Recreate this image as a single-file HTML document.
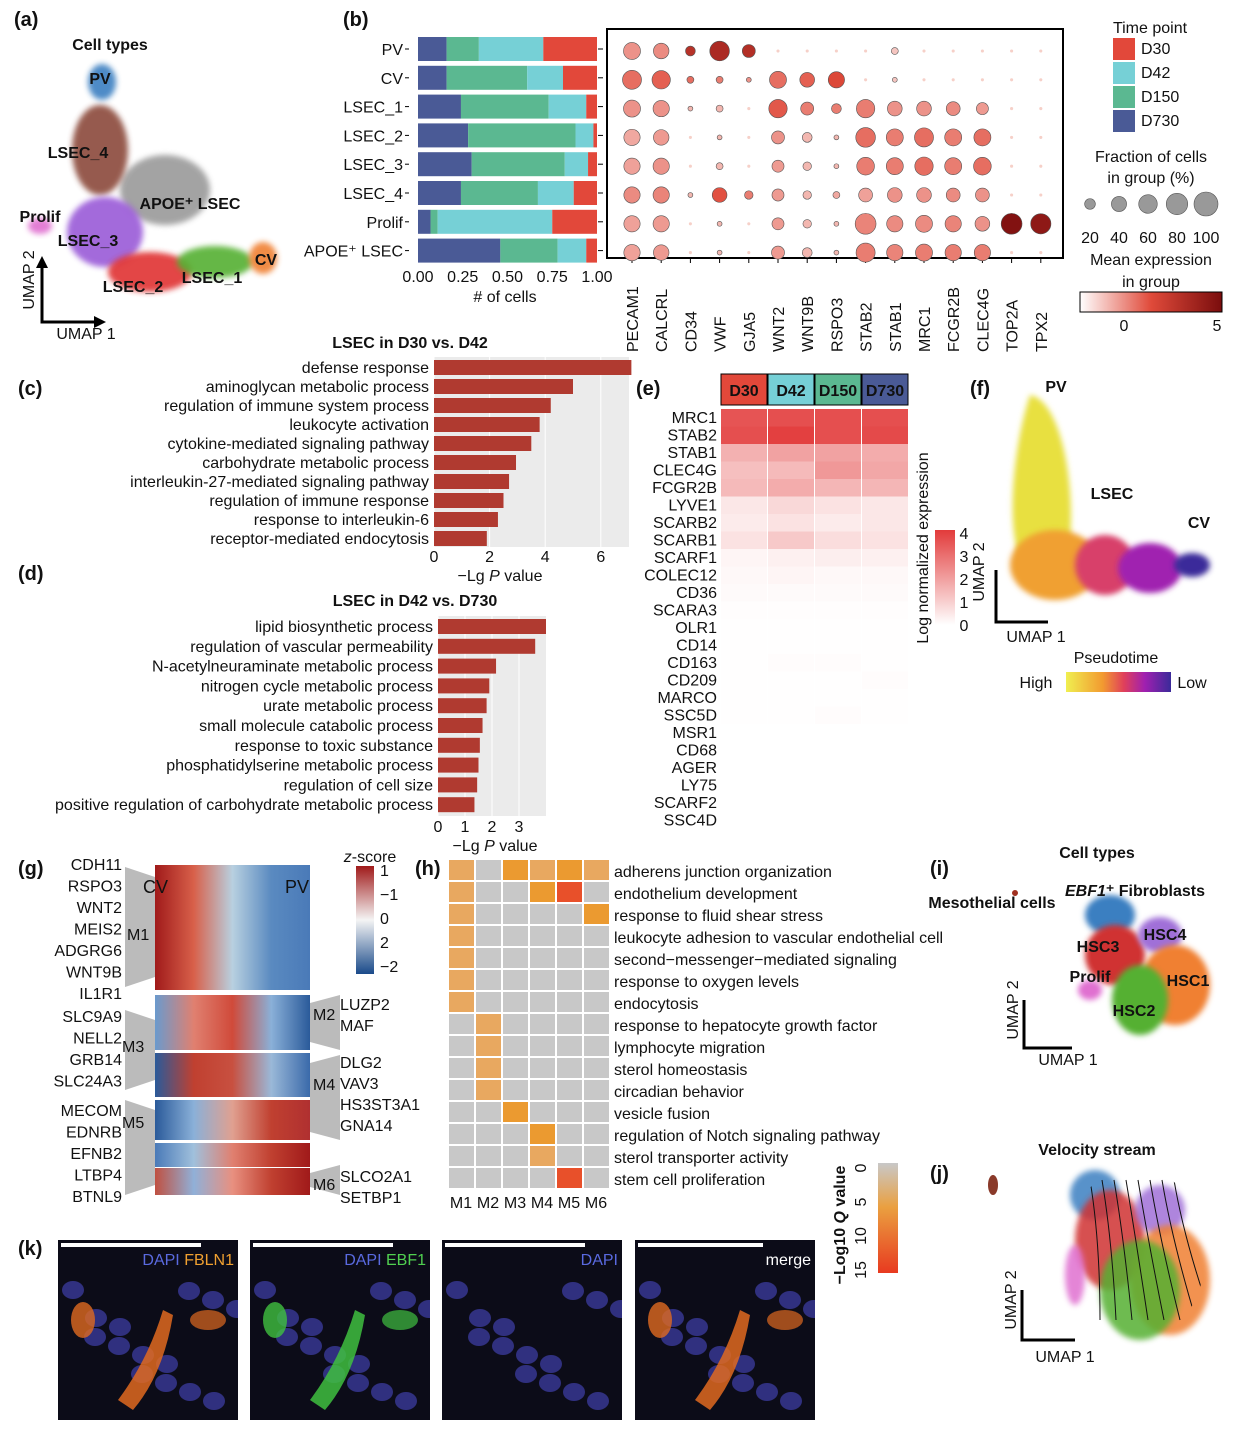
<!DOCTYPE html>
<html><head><meta charset="utf-8"><style>
html,body{margin:0;padding:0;background:#fff}
svg text{font-family:"Liberation Sans",sans-serif;fill:#111}
</style></head><body>
<svg id="fig" width="1239" height="1432" viewBox="0 0 1239 1432" xmlns="http://www.w3.org/2000/svg">
<defs>
<filter id="bl" x="-30%" y="-30%" width="160%" height="160%"><feGaussianBlur stdDeviation="6"/></filter>
<filter id="bl2" x="-30%" y="-30%" width="160%" height="160%"><feGaussianBlur stdDeviation="3"/></filter>
<linearGradient id="pt" x1="0" x2="1"><stop offset="0" stop-color="#f0ef50"/><stop offset=".35" stop-color="#f29a30"/><stop offset=".55" stop-color="#e0405a"/><stop offset=".75" stop-color="#a020b0"/><stop offset="1" stop-color="#3a2a9a"/></linearGradient>
<linearGradient id="zs" x1="0" y1="0" x2="0" y2="1"><stop offset="0" stop-color="#a01a1a"/><stop offset=".5" stop-color="#f4f4f4"/><stop offset="1" stop-color="#1a4a8a"/></linearGradient>
<linearGradient id="lg" x1="0" y1="1" x2="0" y2="0"><stop offset="0" stop-color="#fff"/><stop offset="1" stop-color="#e23b3b"/></linearGradient>
<linearGradient id="qg" x1="0" y1="0" x2="0" y2="1"><stop offset="0" stop-color="#c8c8c8"/><stop offset=".4" stop-color="#eaa040"/><stop offset="1" stop-color="#e83a20"/></linearGradient>
<linearGradient id="mr" x1="0" x2="1"><stop offset="0" stop-color="#fff"/><stop offset=".5" stop-color="#e04a3a"/><stop offset="1" stop-color="#7a0d0d"/></linearGradient>
<clipPath id="vclip"><ellipse cx="1135" cy="1255" rx="70" ry="88"/></clipPath>
</defs>
<g id="root"></g>
</svg>
<script>
const NS='http://www.w3.org/2000/svg';
const root=document.getElementById('root');
const defs=document.querySelector('defs');
function mk(tag,at,parent,txt){const e=document.createElementNS(NS,tag);for(const k in at)e.setAttribute(k,at[k]);if(txt!==undefined)e.textContent=txt;(parent||root).appendChild(e);return e;}
function T(x,y,s,size,anchor,extra){const e=mk('text',Object.assign({x:x,y:y,'font-size':size||16,'text-anchor':anchor||'start'},extra||{}),null,s);


return e;}

// ===== data (b) stacked bars =====
const bCats=['PV','CV','LSEC_1','LSEC_2','LSEC_3','LSEC_4','Prolif','APOE+ LSEC'];
const bD730=[0.16,0.16,0.24,0.28,0.30,0.24,0.07,0.46];
const bD150=[0.18,0.45,0.49,0.60,0.52,0.43,0.04,0.32];
const bD42=[0.36,0.20,0.21,0.10,0.13,0.20,0.64,0.16];
const bD30=[0.30,0.19,0.06,0.02,0.05,0.13,0.25,0.06];
const bTicks=['0.00','0.25','0.50','0.75','1.00'];
// dot plot
const dGenes=['PECAM1','CALCRL','CD34','VWF','GJA5','WNT2','WNT9B','RSPO3','STAB2','STAB1','MRC1','FCGR2B','CLEC4G','TOP2A','TPX2'];
const dSize=[[60,50,20,80,35,2,2,2,2,10,2,2,2,2,2],[75,70,10,10,5,60,45,55,2,5,2,2,2,2,2],[60,55,5,10,2,70,35,20,70,45,45,40,30,2,2],[55,50,2,5,2,35,20,5,80,60,75,60,60,2,2],[55,55,2,10,2,30,15,5,65,60,70,60,65,2,2],[55,55,5,45,15,30,15,10,40,45,45,40,40,2,2],[55,55,2,5,2,30,15,5,90,55,60,55,45,90,85],[55,50,2,5,2,35,20,5,75,55,60,55,55,2,2]];
const dExpr=[[1.5,1.6,3.5,3.8,3.6,.5,.5,.5,.5,.8,.5,.5,.5,.5,.5],[2,2.2,2,1.8,1.5,2,2.2,2.6,.5,.8,.5,.5,.5,.5,.5],[1.5,1.5,1,1,.5,2.3,1.8,1.8,1.8,1.5,1.5,1.6,1.4,.5,.5],[1.2,1.4,.5,1,.5,1.5,1,1,2,1.8,2,1.8,2,.5,.5],[1.3,1.5,.5,1,.5,1.4,1,1,1.8,1.8,2,1.8,2,.5,.5],[1.6,1.7,1,2.4,1.8,1.4,1,1.2,1.3,1.5,1.5,1.6,1.5,.5,.5],[1.3,1.4,.5,1,.5,1.4,1,1,1.7,1.6,1.6,1.7,1.5,4.8,4.5],[1.3,1.4,.5,1,.5,1.4,1,1,1.8,1.7,1.8,1.8,1.8,.5,.5]];
// (c)
const cTerms=['defense response','aminoglycan metabolic process','regulation of immune system process','leukocyte activation','cytokine-mediated signaling pathway','carbohydrate metabolic process','interleukin-27-mediated signaling pathway','regulation of immune response','response to interleukin-6','receptor-mediated endocytosis'];
const cVals=[7.1,5.0,4.2,3.8,3.5,2.95,2.7,2.5,2.3,1.9];
const cTicks=[0,2,4,6];
// (d)
const dTerms=['lipid biosynthetic process','regulation of vascular permeability','N-acetylneuraminate metabolic process','nitrogen cycle metabolic process','urate metabolic process','small molecule catabolic process','response to toxic substance','phosphatidylserine metabolic process','regulation of cell size','positive regulation of carbohydrate metabolic process'];
const dVals=[4.0,3.6,2.15,1.9,1.8,1.65,1.55,1.5,1.45,1.35];
const dTicks=[0,1,2,3];
// (e)
const eCols=['D30','D42','D150','D730'];
const eGenes=['MRC1','STAB2','STAB1','CLEC4G','FCGR2B','LYVE1','SCARB2','SCARB1','SCARF1','COLEC12','CD36','SCARA3','OLR1','CD14','CD163','CD209','MARCO','SSC5D','MSR1','CD68','AGER','LY75','SCARF2','SSC4D'];
const eVals=[[3.5,3.6,3.6,3.6],[3.6,3.9,3.6,3.7],[1.6,1.9,1.9,1.7],[1.3,1.4,2.1,1.8],[1.4,1.7,1.5,1.5],[.5,.8,.6,.5],[.4,.6,.4,.5],[.6,1.1,.7,.6],[.2,.3,.35,.3],[.15,.2,.15,.15],[.1,.1,.1,.1],[.05,.05,.05,.05],[.02,.02,.02,.02],[.02,.02,.02,.02],[.02,.06,.06,.02],[.02,.02,.02,.06],[.02,.02,.02,.02],[.02,.02,.06,.02],[0,0,0,0],[0,0,0,0],[0,0,0,0],[0,0,0,0],[0,0,0,0],[0,0,0,0]];
// (h)
const hTerms=['adherens junction organization','endothelium development','response to fluid shear stress','leukocyte adhesion to vascular endothelial cell','second−messenger−mediated signaling','response to oxygen levels','endocytosis','response to hepatocyte growth factor','lymphocyte migration','sterol homeostasis','circadian behavior','vesicle fusion','regulation of Notch signaling pathway','sterol transporter activity','stem cell proliferation'];
const hMods=['M1','M2','M3','M4','M5','M6'];
const hQ=[[4,0,7,4,7,4],[4,0,0,7,11,0],[4,0,0,0,0,7],[4,0,0,0,0,0],[4,0,0,0,0,0],[4,0,0,0,0,0],[4,0,0,0,0,0],[0,4,0,0,0,0],[0,4,0,0,0,0],[0,4,0,0,0,0],[0,4,0,0,0,0],[0,0,7,0,0,0],[0,0,0,7,0,0],[0,0,0,4,0,0],[0,0,0,0,14,0]];

// ===== panel letters =====
[['(a)',14,26],['(b)',343,26],['(c)',18,395],['(d)',18,580],['(e)',636,395],['(f)',970,395],['(g)',18,875],['(h)',415,875],['(i)',930,875],['(j)',930,1180],['(k)',18,1255]].forEach(p=>{T(p[1],p[2],p[0],20,'start',{'font-weight':'bold'});});

// ===== (a) UMAP =====
const aBlobs=[['#9a9a9a',165,190,45,35],['#8b4a3a',100,150,28,45],['#3a7fc1',102,82,14,18],['#9a5ad8',105,232,38,35],['#e03030',150,272,42,20],['#55b030',215,262,38,16],['#f08030',263,258,14,16],['#e070d0',40,226,12,8]];
aBlobs.forEach(b=>{const e=mk('ellipse',{cx:b[1],cy:b[2],rx:b[3],ry:b[4],fill:b[0],filter:'url(#bl2)',opacity:.9});});
T(110,50,'Cell types',16,'middle',{'font-weight':'bold'});
[['PV',100,84],['LSEC_4',78,158],['APOE⁺ LSEC',190,209],['Prolif',40,222],['LSEC_3',88,246],['LSEC_2',133,292],['LSEC_1',212,283],['CV',266,265]].forEach(l=>T(l[1],l[2],l[0],16,'middle',{'font-weight':'bold'}));
mk('path',{d:'M42 262 V322 H100',stroke:'#000','stroke-width':3,fill:'none'});
mk('path',{d:'M36 268 L42 256 L48 268 Z M94 316 L106 322 L94 328Z',fill:'#000'});
T(86,339,'UMAP 1',16,'middle');T(34,280,'UMAP 2',16,'middle',{transform:'rotate(-90 34 280)'});

// ===== (b) stacked bars =====
const bx0=418,bx1=597,bColors=['#4a5a96','#5bb891','#76d0d6','#e2483a'];
const bX=v=>bx0+v*(bx1-bx0);
bCats.forEach((c,i)=>{const y=37+i*28.8;let acc=0;
 [bD730,bD150,bD42,bD30].forEach((s,k)=>{const r=mk('rect',{x:bX(acc),y:y,width:bX(acc+s[i])-bX(acc),height:24,fill:bColors[k]});acc+=s[i];});
 const lab=c.startsWith('APOE')?'APOE⁺ LSEC':c;T(403,y+18,lab,16,'end');
 mk('line',{x1:405,x2:409,y1:y+12,y2:y+12,stroke:'#000'});
 mk('line',{x1:598,x2:603,y1:y+12,y2:y+12,stroke:'#000'});});
bTicks.forEach((t,i)=>{T(bX(i/4),282,t,16,'middle');});
T(505,302,'# of cells',16,'middle');
// dot plot
mk('rect',{x:607,y:29,width:456,height:229,fill:'none',stroke:'#000','stroke-width':2});
const mcol=v=>{const s=[[255,255,255],[224,74,58],[122,13,13]];const t=Math.min(v/5,1)*2;const i=Math.min(Math.floor(t),1),f=t-i;return 'rgb('+s[i].map((c,k)=>Math.round(c+(s[i+1][k]-c)*f)).join(',')+')';};
dGenes.forEach((g,j)=>{const x=632+j*29.2;T(x+6,352,g,16,'start',{transform:'rotate(-90 '+(x+6)+' 352)'});mk('line',{x1:x,x2:x,y1:258,y2:263,stroke:'#000'});
 dSize.forEach((row,i)=>{const y=51+i*28.8;const r=Math.max(0.8,Math.sqrt(row[j]/100)*11);const c=mk('circle',{cx:x,cy:y,r:r,fill:row[j]<5?'#f6d0c8':mcol(dExpr[i][j]),stroke:row[j]<5?'none':'#555','stroke-width':.6});});});
// legend b
T(1150,33,'Time point',16,'middle');
['D30','D42','D150','D730'].forEach((d,i)=>{mk('rect',{x:1113,y:38+i*24,width:22,height:22,fill:bColors[3-i]});T(1141,54+i*24,d,16);});
T(1151,162,'Fraction of cells',16,'middle');T(1151,183,'in group (%)',16,'middle');
[20,40,60,80,100].forEach((v,i)=>{const x=1090+i*29;mk('circle',{cx:x,cy:204,r:Math.sqrt(v/100)*12,fill:'#999',stroke:'#555','stroke-width':.6});T(x,243,String(v),16,'middle');});
T(1151,265,'Mean expression',16,'middle');T(1151,287,'in group',16,'middle');
mk('rect',{x:1080,y:292,width:142,height:20,fill:'url(#mr)',stroke:'#000'});
T(1124,331,'0',16,'middle');T(1217,331,'5',16,'middle');

// ===== (c) =====
T(410,348,'LSEC in D30 vs. D42',16,'middle',{'font-weight':'bold'});
const cx0=434,cU=27.8;
mk('rect',{x:cx0,y:357,width:195,height:190,fill:'#ebebeb'});
cTicks.forEach(t=>{mk('line',{x1:cx0+t*cU,x2:cx0+t*cU,y1:357,y2:547,stroke:'#fff'});T(cx0+t*cU,562,String(t),16,'middle');});
cTerms.forEach((t,i)=>{const y=360+i*19;const r=mk('rect',{x:cx0,y:y,width:cVals[i]*cU,height:15,fill:'#b03a30'});T(429,y+13,t,16,'end');});
T(500,581,'',16,'middle').innerHTML='−Lg <tspan font-style="italic">P</tspan> value';
// ===== (d) =====
T(415,606,'LSEC in D42 vs. D730',16,'middle',{'font-weight':'bold'});
const dx0=438,dU=27;
mk('rect',{x:dx0,y:616,width:108,height:200,fill:'#ebebeb'});
dTicks.forEach(t=>{mk('line',{x1:dx0+t*dU,x2:dx0+t*dU,y1:616,y2:816,stroke:'#fff'});T(dx0+t*dU,832,String(t),16,'middle');});
dTerms.forEach((t,i)=>{const y=619+i*19.8;const r=mk('rect',{x:dx0,y:y,width:dVals[i]*dU,height:15,fill:'#b03a30'});T(433,y+13,t,16,'end');});
T(495,851,'',16,'middle').innerHTML='−Lg <tspan font-style="italic">P</tspan> value';

// ===== (e) =====
const eHead=['#e2483a','#76d0d6','#5bb891','#4a5a96'];
eCols.forEach((c,j)=>{const x=721+j*47;mk('rect',{x:x,y:374,width:46,height:31,fill:eHead[j],stroke:'#000'});T(x+23,396,c,16,'middle',{'font-weight':'bold'});});
const eCol=v=>{const f=Math.min(v/4,1);return 'rgb('+[255+(226-255)*f,255+(59-255)*f,255+(59-255)*f].map(Math.round).join(',')+')';};
eGenes.forEach((g,i)=>{const y=409+i*17.5;T(717,y+14,g,16,'end');eVals[i].forEach((v,j)=>{const r=mk('rect',{x:721+j*47,y:y,width:46,height:17.5,fill:eCol(v)});});});
mk('rect',{x:935,y:530,width:20,height:95,fill:'url(#lg)'});
[4,3,2,1,0].forEach((v,i)=>{T(964,539+i*23,String(v),16,'middle');});
T(928,548,'Log normalized expression',16,'middle',{transform:'rotate(-90 928 548)'});

// ===== (f) =====
mk('path',{d:'M1030 395 C1060 400 1075 480 1070 540 L1060 560 L1020 560 C1005 520 1015 440 1030 395Z',fill:'#e8e040',filter:'url(#bl2)'});
mk('ellipse',{cx:1055,cy:565,rx:45,ry:35,fill:'#f0a030',filter:'url(#bl2)'});
mk('ellipse',{cx:1105,cy:565,rx:30,ry:30,fill:'#d8406a',filter:'url(#bl2)'});
mk('ellipse',{cx:1150,cy:568,rx:32,ry:25,fill:'#a020b0',filter:'url(#bl2)'});
mk('ellipse',{cx:1192,cy:565,rx:18,ry:12,fill:'#3a2a9a',filter:'url(#bl2)'});
T(1056,392,'PV',16,'middle',{'font-weight':'bold'});T(1112,499,'LSEC',16,'middle',{'font-weight':'bold'});T(1199,528,'CV',16,'middle',{'font-weight':'bold'});
mk('path',{d:'M996 570 V622 H1048',stroke:'#000','stroke-width':3,fill:'none'});
T(1036,642,'UMAP 1',16,'middle');T(984,572,'UMAP 2',16,'middle',{transform:'rotate(-90 984 572)'});
T(1116,663,'Pseudotime',16,'middle');T(1036,688,'High',16,'middle');T(1192,688,'Low',16,'middle');
mk('rect',{x:1066,y:672,width:105,height:20,fill:'url(#pt)'});

// ===== (g) =====
const gBands=[[865,990,['#a01a1a','#d8604a','#b8d0e0','#5a8ac0','#4a7ab8']],[995,1050,['#6a9acd','#e08070','#d04a3a','#8ab0d8','#2a5a9a']],[1053,1097,['#2a5a9a','#c04030','#c85040','#9ab8d8','#3a6aaa']],[1100,1140,['#2a5a9a','#8ab0d8','#e0a090','#c04030','#b03030']],[1143,1167,['#4a7ab8','#a0c0dc','#e08070','#c04030','#a01a1a']],[1168,1195,['#c05040','#90b0d8','#e89080','#c04030','#a01a1a']]];
gBands.forEach((b,i)=>{const id='gb'+i;const lgd=mk('linearGradient',{id:id,x1:0,x2:1},defs);b[2].forEach((c,k)=>mk('stop',{offset:k/(b[2].length-1),'stop-color':c},lgd));const r=mk('rect',{x:155,y:b[0],width:155,height:b[1]-b[0],fill:'url(#'+id+')'});});
['CDH11','RSPO3','WNT2','MEIS2','ADGRG6','WNT9B','IL1R1'].forEach((g,i)=>T(122,870+i*21.5,g,16,'end'));
['SLC9A9','NELL2','GRB14','SLC24A3'].forEach((g,i)=>T(122,1022+i*21.5,g,16,'end'));
['MECOM','EDNRB','EFNB2','LTBP4','BTNL9'].forEach((g,i)=>T(122,1116+i*21.5,g,16,'end'));
[['M1',127,867,987,940],['M3',122,1010,1090,1052],['M5',122,1100,1195,1128]].forEach(m=>{mk('path',{d:'M125 '+m[2]+' L155 '+(m[2]+10)+' L155 '+(m[3]-10)+' L125 '+m[3]+'Z',fill:'#bbb'});T(m[1],m[4],m[0],16);});
T(143,893,'CV',18,'start');T(297,893,'PV',18,'middle');
[['M2',995,1050,1020],['M4',1055,1140,1090],['M6',1165,1195,1190]].forEach(m=>{mk('path',{d:'M340 '+m[1]+' L310 '+(m[1]+8)+' L310 '+(m[2]-8)+' L340 '+m[2]+'Z',fill:'#bbb'});T(313,m[3],m[0],16);});
['LUZP2','MAF'].forEach((g,i)=>T(340,1010+i*21,g,16));
['DLG2','VAV3','HS3ST3A1','GNA14'].forEach((g,i)=>T(340,1068+i*21,g,16));
['SLCO2A1','SETBP1'].forEach((g,i)=>T(340,1182+i*21,g,16));
T(370,862,'',16,'middle').innerHTML='<tspan font-style="italic">z</tspan>-score';
mk('rect',{x:356,y:866,width:18,height:108,fill:'url(#zs)'});
['1','−1','0','2','−2'].forEach((v,i)=>T(380,876+i*24,v,16));

// ===== (h) =====
const hx0=449,hy0=860,hw=27,hh=22;
const hCol=q=>q===0?'#c8c8c8':q<5?'#e8a860':q<10?'#eb9a30':'#e8502a';
hQ.forEach((row,i)=>{row.forEach((q,j)=>{const r=mk('rect',{x:hx0+j*hw,y:hy0+i*hh,width:hw-2,height:hh-2,fill:hCol(q)});});T(614,hy0+i*hh+17,hTerms[i],16);});
hMods.forEach((m,j)=>T(hx0+j*hw+12,1208,m,16,'middle'));
mk('rect',{x:878,y:1163,width:20,height:110,fill:'url(#qg)'});
['0','5','10','15'].forEach((v,i)=>T(866,1168+i*34,v,16,'middle',{transform:'rotate(-90 866 '+(1168+i*34)+')'}));
T(845,1225,'',16,'middle',{transform:'rotate(-90 845 1225)','font-weight':'bold'}).innerHTML='−Log10 <tspan font-style="italic">Q</tspan> value';

// ===== (i) =====
T(1097,858,'Cell types',16,'middle',{'font-weight':'bold'});
[['#3a7fc1',1110,915,25,20],['#d03030',1115,955,30,30],['#a070d8',1160,935,22,18],['#f08030',1175,985,35,40],['#55b030',1140,1000,28,35],['#e070d0',1090,990,12,10]].forEach(b=>mk('ellipse',{cx:b[1],cy:b[2],rx:b[3],ry:b[4],fill:b[0],filter:'url(#bl2)'}));
mk('circle',{cx:1015,cy:893,r:3,fill:'#a03020'});
T(992,908,'Mesothelial cells',16,'middle',{'font-weight':'bold'});
T(1135,896,'',16,'middle',{'font-weight':'bold'}).innerHTML='<tspan font-style="italic">EBF1</tspan>⁺ Fibroblasts';
[['HSC3',1098,952],['HSC4',1165,940],['Prolif',1090,982],['HSC1',1188,986],['HSC2',1134,1016]].forEach(l=>T(l[1],l[2],l[0],16,'middle',{'font-weight':'bold'}));
mk('path',{d:'M1024 1000 V1048 H1072',stroke:'#000','stroke-width':3,fill:'none'});
T(1068,1065,'UMAP 1',16,'middle');T(1018,1010,'UMAP 2',16,'middle',{transform:'rotate(-90 1018 1010)'});
// ===== (j) =====
T(1097,1155,'Velocity stream',16,'middle',{'font-weight':'bold'});
[['#3a7fc1',1095,1195,25,25],['#d03030',1110,1240,35,50],['#a070d8',1160,1210,25,25],['#f08030',1170,1280,40,55],['#55b030',1140,1290,40,50],['#e070d0',1075,1275,10,30]].forEach(b=>mk('ellipse',{cx:b[1],cy:b[2],rx:b[3],ry:b[4],fill:b[0],filter:'url(#bl2)',opacity:.85}));
const vg=mk('g',{'clip-path':'url(#vclip)'});
for(let k=0;k<8;k++)mk('path',{d:'M'+(1090+k*12)+' 1180 q 10 60 '+(10+k*4)+' 140',stroke:'#111','stroke-width':1,fill:'none'},vg);
mk('ellipse',{cx:993,cy:1185,rx:5,ry:10,fill:'#8a3a2a'});
mk('path',{d:'M1022 1290 V1340 H1075',stroke:'#000','stroke-width':3,fill:'none'});
T(1065,1362,'UMAP 1',16,'middle');T(1016,1300,'UMAP 2',16,'middle',{transform:'rotate(-90 1016 1300)'});

// ===== (k) =====
const kLabels=[[['DAPI','#5a6ae0'],[' FBLN1','#f0a030']],[['DAPI','#5a6ae0'],[' EBF1','#50d050']],[['DAPI','#5a6ae0']],[['merge','#fff']]];
[58,250,442,635].forEach((x,i)=>{const cp=mk('clipPath',{id:'kc'+i},defs);mk('rect',{x:x,y:1240,width:180,height:180},cp);
 const g=mk('g',{'clip-path':'url(#kc'+i+')'});
 mk('rect',{x:x,y:1240,width:180,height:180,fill:'#0c0c18'},g);
 for(let k=0;k<14;k++){mk('ellipse',{cx:x+15+(k*47)%165,cy:1290+((k*37)%120),rx:11,ry:9,fill:'#3a3a9a',opacity:.8},g);}
 if(i!==2){const c=i===1?'#40c040':'#e06a20';mk('path',{d:'M'+(x+60)+' 1400 q 30 -40 45 -90 l 10 5 q -10 60 -40 95z',fill:c,opacity:.85},g);mk('ellipse',{cx:x+25,cy:1320,rx:12,ry:18,fill:c,opacity:.8},g);mk('ellipse',{cx:x+150,cy:1320,rx:18,ry:10,fill:c,opacity:.7},g);}
 mk('rect',{x:x+3,y:1243,width:i===3?125:140,height:4,fill:'#fff'},g);
 const t=mk('text',{x:x+176,y:1265,'font-size':16,'text-anchor':'end'},g);let h='';kLabels[i].forEach(p=>h+='<tspan fill="'+p[1]+'">'+p[0]+'</tspan>');t.innerHTML=h;});
</script>
</body></html>
